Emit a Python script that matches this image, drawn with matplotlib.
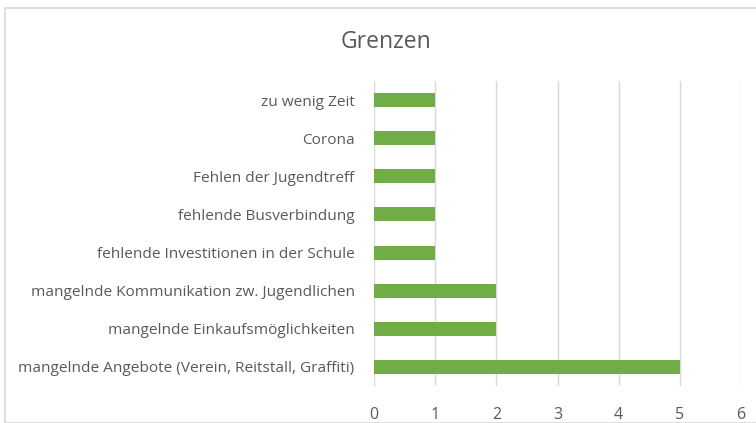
import matplotlib
matplotlib.use("Agg")
import matplotlib.pyplot as plt
from matplotlib.patches import Rectangle

categories = [
    "mangelnde Angebote (Verein, Reitstall, Graffiti)",
    "mangelnde Einkaufsmöglichkeiten",
    "mangelnde Kommunikation zw. Jugendlichen",
    "fehlende Investitionen in der Schule",
    "fehlende Busverbindung",
    "Fehlen der Jugendtreff",
    "Corona",
    "zu wenig Zeit",
]
values = [5, 2, 2, 1, 1, 1, 1, 1]
xticks = [0, 1, 2, 3, 4, 5, 6]

plt.rcParams['font.family'] = ['Open Sans', 'DejaVu Sans']
W, H = 756, 423
fig = plt.figure(figsize=(W/100, H/100), dpi=100)
fig.patches.append(Rectangle((5/W, 0), 1.0, 1 - 8/H, transform=fig.transFigure,
                             fill=False, edgecolor='#D9D9D9', linewidth=1.2))
ax = fig.add_axes([374/W, 1 - 386/H, (741-374)/W, (386-81)/H])
y = list(range(len(categories)))
ax.barh(y, values, height=0.37, color='#70AD47', zorder=3)
ax.set_xlim(0, 6)
ax.set_ylim(-0.5, len(categories) - 0.5)
ax.set_yticks(y)
ax.set_yticklabels(categories, fontsize=11.1, color='#595959')
ax.set_xticks(xticks)
ax.set_xticklabels([str(t) for t in xticks], fontsize=11.5, color='#595959')
ax.grid(axis='x', color='#D9D9D9', linewidth=1, zorder=0)
for s in ax.spines.values():
    s.set_visible(False)
ax.tick_params(axis='y', length=0, pad=14)
ax.tick_params(axis='x', length=0, pad=15)
fig.text(386/W, 1 - 42/H, "Grenzen", ha='center', va='center', fontsize=16.5, color='#595959')
fig.savefig("out.png", dpi=100)
